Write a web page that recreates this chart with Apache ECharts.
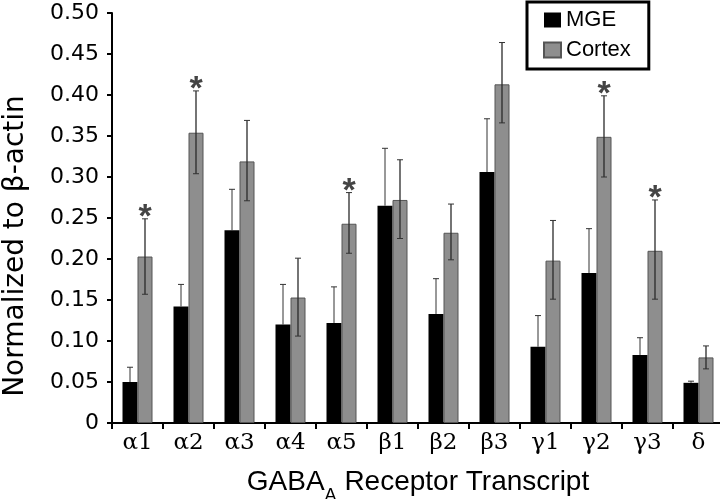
<!DOCTYPE html>
<html><head><meta charset="utf-8">
<script src="https://cdn.jsdelivr.net/npm/echarts@6/dist/echarts.min.js"></script>
<style>html,body{margin:0;padding:0;background:#fff}#c{width:720px;height:499px}</style>
</head><body><div id="c"></div>
<script>
const categories = ['α1','α2','α3','α4','α5','β1','β2','β3','γ1','γ2','γ3','δ'];
const seriesNames = ['MGE', 'Cortex'];
const mge          = [0.050, 0.142, 0.235, 0.120, 0.122, 0.265, 0.133, 0.306, 0.093, 0.183, 0.083, 0.049];
const mgeErrTop    = [0.068, 0.169, 0.285, 0.169, 0.166, 0.335, 0.176, 0.371, 0.131, 0.237, 0.104, 0.051];
const cortex       = [0.203, 0.354, 0.319, 0.153, 0.243, 0.272, 0.232, 0.413, 0.198, 0.349, 0.210, 0.080];
const cortexErrTop = [0.249, 0.405, 0.369, 0.201, 0.281, 0.321, 0.267, 0.464, 0.247, 0.399, 0.272, 0.094];
const cortexErrLow = [0.157, 0.304, 0.271, 0.106, 0.207, 0.225, 0.199, 0.366, 0.151, 0.300, 0.151, 0.066];
const significant  = [1, 1, 0, 0, 1, 0, 0, 0, 0, 1, 1, 0];
const yMin = 0, yMax = 0.5, yStep = 0.05;

const BAR_W = 15;
const chart = echarts.init(document.getElementById('c'));

function errRender(params, api) {
  const i = api.value(0);
  const xc = api.coord([i, 0])[0];
  const cap = 3;
  const st = { stroke: '#333', lineWidth: 1 };
  const ch = [];
  const xm = xc - BAR_W / 2;
  const mT = api.coord([i, mgeErrTop[i]])[1];
  const mV = api.coord([i, mge[i]])[1];
  ch.push({ type: 'line', shape: { x1: xm, y1: mV, x2: xm, y2: mT }, style: st });
  ch.push({ type: 'line', shape: { x1: xm - cap, y1: mT, x2: xm + cap, y2: mT }, style: st });
  const xk = xc + BAR_W / 2;
  const cT = api.coord([i, cortexErrTop[i]])[1];
  const cL = api.coord([i, cortexErrLow[i]])[1];
  ch.push({ type: 'line', shape: { x1: xk, y1: cL, x2: xk, y2: cT }, style: { stroke: '#2a2a2a', lineWidth: 1.3 } });
  ch.push({ type: 'line', shape: { x1: xk - cap, y1: cT, x2: xk + cap, y2: cT }, style: st });
  ch.push({ type: 'line', shape: { x1: xk - cap, y1: cL, x2: xk + cap, y2: cL }, style: st });
  return { type: 'group', children: ch };
}

function starRender(params, api) {
  const i = api.value(0);
  if (!significant[i]) return null;
  const xc = api.coord([i, 0])[0] + BAR_W / 2;
  const y = api.coord([i, cortexErrTop[i]])[1];
  return {
    type: 'text',
    style: {
      text: '*', x: xc, y: y + 16, align: 'center', verticalAlign: 'bottom',
      fill: '#444', fontSize: 34, fontFamily: 'Liberation Sans', fontWeight: 'bold'
    }
  };
}

chart.setOption({
  animation: false,
  backgroundColor: '#fff',
  grid: { left: 112, top: 13, width: 612, height: 410, containLabel: false, outerBoundsMode: 'none' },
  legend: {
    data: seriesNames, orient: 'vertical', left: 527, top: 2,
    itemWidth: 17, itemHeight: 15, itemGap: 8, icon: 'rect',
    padding: [7, 18, 8, 16],
    borderColor: '#000', borderWidth: 3,
    textStyle: { fontFamily: 'Liberation Sans', fontSize: 22, color: '#000', lineHeight: 22 }
  },
  xAxis: {
    type: 'category', data: categories,
    name: '{a|GABA}{s|A}{a| Receptor Transcript}',
    nameLocation: 'middle', nameGap: 23,
    nameTextStyle: {
      rich: {
        a: { fontFamily: 'Liberation Sans', fontSize: 28, color: '#000', lineHeight: 30 },
        s: { fontFamily: 'Liberation Sans', fontSize: 18, color: '#000', lineHeight: 18, padding: [27, 0, 0, 0] }
      }
    },
    axisLine: { lineStyle: { color: '#000', width: 2 } },
    axisTick: { show: true, length: 6, lineStyle: { color: '#000', width: 2 } },
    axisLabel: { fontFamily: 'DejaVu Serif', fontSize: 23, color: '#000', margin: 9 }
  },
  yAxis: {
    type: 'value', min: yMin, max: yMax, interval: yStep,
    axisLine: { show: true, lineStyle: { color: '#000', width: 2 } },
    axisTick: { show: true, length: 5, lineStyle: { color: '#000', width: 2 } },
    splitLine: { show: false },
    axisLabel: {
      fontFamily: 'DejaVu Sans', fontSize: 22, color: '#000', margin: 13,
      formatter: v => (v === 0 ? '0' : v.toFixed(2))
    }
  },
  graphic: [{
    type: 'text', x: 16, y: 246, rotation: Math.PI / 2,
    style: { text: 'Normalized to β-actin', fontFamily: 'DejaVu Sans', fontSize: 28, fill: '#000', align: 'center', verticalAlign: 'middle' }
  }],
  series: [
    { name: seriesNames[0], type: 'bar', data: mge, barWidth: BAR_W, barGap: '0%',
      itemStyle: { color: '#000' } },
    { name: seriesNames[1], type: 'bar', data: cortex, barWidth: BAR_W, barGap: '0%',
      itemStyle: { color: '#8e8e8e', borderColor: '#555', borderWidth: 1 } },
    { type: 'custom', renderItem: errRender, data: categories.map((c, i) => [i]), z: 5, silent: true },
    { type: 'custom', renderItem: starRender, data: categories.map((c, i) => [i]), z: 6, silent: true }
  ]
});
</script>
</body></html>
